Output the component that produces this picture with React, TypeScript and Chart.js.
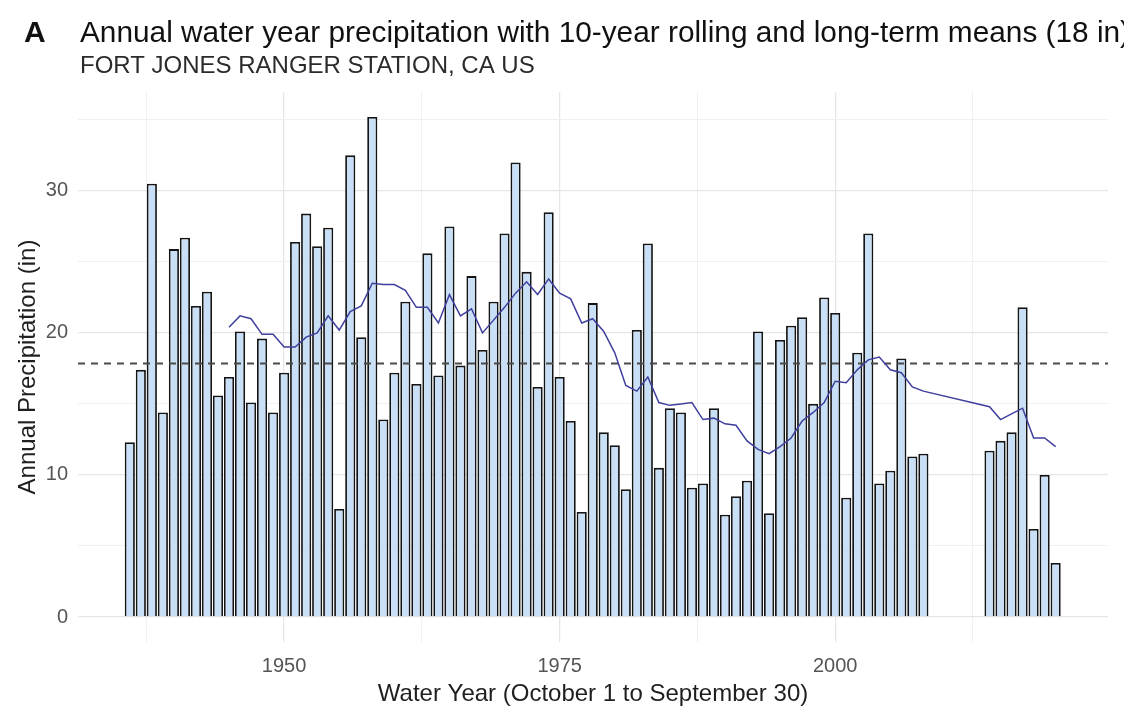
import { useEffect, useRef } from "react";
import { Chart, registerables } from "chart.js";

Chart.register(...registerables);

// Water years with observations (2009–2013 are missing at this station)
const years = [
  1936, 1937, 1938, 1939, 1940, 1941, 1942, 1943, 1944, 1945,
  1946, 1947, 1948, 1949, 1950, 1951, 1952, 1953, 1954, 1955,
  1956, 1957, 1958, 1959, 1960, 1961, 1962, 1963, 1964, 1965,
  1966, 1967, 1968, 1969, 1970, 1971, 1972, 1973, 1974, 1975,
  1976, 1977, 1978, 1979, 1980, 1981, 1982, 1983, 1984, 1985,
  1986, 1987, 1988, 1989, 1990, 1991, 1992, 1993, 1994, 1995,
  1996, 1997, 1998, 1999, 2000, 2001, 2002, 2003, 2004, 2005,
  2006, 2007, 2008, 2014, 2015, 2016, 2017, 2018, 2019, 2020,
];

// Annual water-year precipitation, inches
const precipIn = [
  12.3, 17.4, 30.5, 14.4, 25.9, 26.7, 21.9, 22.9, 15.6, 16.9,
  20.1, 15.1, 19.6, 14.4, 17.2, 26.4, 28.4, 26.1, 27.4, 7.6,
  32.5, 19.7, 35.2, 13.9, 17.2, 22.2, 16.4, 25.6, 17.0, 27.5,
  17.7, 24.0, 18.8, 22.2, 27.0, 32.0, 24.3, 16.2, 28.5, 16.9,
  13.8, 7.4, 22.1, 13.0, 12.1, 9.0, 20.2, 26.3, 10.5, 14.7,
  14.4, 9.1, 9.4, 14.7, 7.2, 8.5, 9.6, 20.1, 7.3, 19.5,
  20.5, 21.1, 15.0, 22.5, 21.4, 8.4, 18.6, 27.0, 9.4, 10.3,
  18.2, 11.3, 11.5, 11.7, 12.4, 13.0, 21.8, 6.2, 10.0, 3.8,
];

// 10-year rolling mean, inches
const rollingYears = [
  1945, 1946, 1947, 1948, 1949, 1950, 1951, 1952, 1953, 1954,
  1955, 1956, 1957, 1958, 1959, 1960, 1961, 1962, 1963, 1964,
  1965, 1966, 1967, 1968, 1969, 1970, 1971, 1972, 1973, 1974,
  1975, 1976, 1977, 1978, 1979, 1980, 1981, 1982, 1983, 1984,
  1985, 1986, 1987, 1988, 1989, 1990, 1991, 1992, 1993, 1994,
  1995, 1996, 1997, 1998, 1999, 2000, 2001, 2002, 2003, 2004,
  2005, 2006, 2007, 2008, 2014, 2015, 2016, 2017, 2018, 2019,
  2020,
];
const rolling10 = [
  20.4, 21.2, 21.0, 19.9, 19.9, 19.0, 19.0, 19.7, 20.0, 21.2,
  20.2, 21.5, 21.9, 23.5, 23.4, 23.4, 23.0, 21.8, 21.8, 20.7,
  22.7, 21.2, 21.7, 20.0, 20.9, 21.8, 22.8, 23.6, 22.7, 23.8,
  22.8, 22.4, 20.7, 21.0, 20.1, 18.6, 16.3, 15.9, 16.9, 15.1,
  14.9, 15.0, 15.1, 13.9, 14.0, 13.6, 13.5, 12.4, 11.8, 11.5,
  12.0, 12.6, 13.8, 14.4, 15.1, 16.6, 16.5, 17.4, 18.1, 18.3,
  17.4, 17.2, 16.2, 15.9, 14.8, 13.9, 14.3, 14.7, 12.6, 12.6,
  12.0,
];

// Long-term mean, inches
const longTermMean = 17.85;

// Axis ticks
const xTickYears = [1950, 1975, 2000];
const xMinorYears = [1937.5, 1962.5, 1987.5, 2012.5];
const yTickValues = [0, 10, 20, 30];
const yMinorValues = [5, 15, 25, 35];

const X_MIN = 1931.3;
const X_MAX = 2024.75;
const Y_MIN = -1.76;
const Y_MAX = 36.96;

const FONT = "'Liberation Sans', Arial, Helvetica, sans-serif";

const TITLE_TAG = "A";
const TITLE = "Annual water year precipitation with 10-year rolling and long-term means (18 in)";
const SUBTITLE = "FORT JONES RANGER STATION, CA US";
const X_TITLE = "Water Year (October 1 to September 30)";
const Y_TITLE = "Annual Precipitation (in)";

const textPlugin = {
  id: "plotText",
  afterDraw(chart: any) {
    const { ctx, chartArea } = chart;
    ctx.save();
    ctx.fillStyle = "#111111";
    ctx.textBaseline = "alphabetic";
    ctx.textAlign = "left";
    ctx.font = `bold 30px ${FONT}`;
    ctx.fillText(TITLE_TAG, 24, 42);
    ctx.font = `29.8px ${FONT}`;
    ctx.fillText(TITLE, 80, 42);
    ctx.fillStyle = "#2b2b2b";
    ctx.font = `24px ${FONT}`;
    ctx.fillText(SUBTITLE, 80, 73);

    ctx.fillStyle = "#1f1f1f";
    ctx.textAlign = "center";
    ctx.textBaseline = "middle";
    ctx.fillText(X_TITLE, (chartArea.left + chartArea.right) / 2, 694);

    ctx.translate(28, (chartArea.top + chartArea.bottom) / 2);
    ctx.rotate(-Math.PI / 2);
    ctx.fillText(Y_TITLE, 0, 0);
    ctx.restore();
  },
};

export default function App() {
  const canvasRef = useRef<HTMLCanvasElement | null>(null);

  useEffect(() => {
    const canvas = canvasRef.current;
    if (!canvas) return;
    Chart.defaults.font.family = FONT;

    const chart = new Chart(canvas, {
      type: "bar",
      data: {
        datasets: [
          {
            type: "line",
            label: "10-year rolling mean",
            data: rollingYears.map((yr, i) => ({ x: yr, y: rolling10[i] })),
            borderColor: "#3f3f9e",
            borderWidth: 1.5,
            pointRadius: 0,
            tension: 0,
            order: 1,
          } as any,
          {
            type: "line",
            label: "Long-term mean",
            data: [
              { x: X_MIN, y: longTermMean },
              { x: X_MAX, y: longTermMean },
            ],
            borderColor: "#4a4a4a",
            borderWidth: 2,
            borderDash: [7, 6],
            pointRadius: 0,
            order: 2,
          } as any,
          {
            type: "bar",
            label: "Annual precipitation",
            data: years.map((yr, i) => ({ x: yr, y: precipIn[i] })),
            backgroundColor: "#c9dff5",
            borderColor: "#141414",
            borderWidth: 1.8,
            barPercentage: 0.92,
            categoryPercentage: 1.0,
            order: 3,
          } as any,
        ],
      },
      options: {
        responsive: false,
        animation: false,
        devicePixelRatio: 1,
        layout: { padding: { top: 92, right: 16, bottom: 0, left: 0 } },
        plugins: {
          legend: { display: false },
          tooltip: { enabled: false },
          title: { display: false },
        },
        scales: {
          x: {
            type: "linear",
            min: X_MIN,
            max: X_MAX,
            offset: false,
            border: { display: false },
            afterBuildTicks: (scale: any) => {
              scale.ticks = [...xMinorYears, ...xTickYears]
                .sort((a, b) => a - b)
                .map((v) => ({ value: v }));
            },
            afterFit: (scale: any) => {
              scale.height = 70;
            },
            grid: {
              offset: false,
              drawTicks: false,
              color: (c: any) =>
                xTickYears.includes(c.tick?.value) ? "#e6e6e6" : "#f0f0f0",
              lineWidth: (c: any) => (xTickYears.includes(c.tick?.value) ? 1.3 : 1),
            },
            ticks: {
              autoSkip: false,
              maxRotation: 0,
              padding: 12,
              color: "#555555",
              font: { size: 20 },
              callback: (v: any) => (xTickYears.includes(Number(v)) ? String(v) : ""),
            },
          },
          y: {
            type: "linear",
            min: Y_MIN,
            max: Y_MAX,
            border: { display: false },
            afterBuildTicks: (scale: any) => {
              scale.ticks = [...yTickValues, ...yMinorValues]
                .sort((a, b) => a - b)
                .map((v) => ({ value: v }));
            },
            afterFit: (scale: any) => {
              scale.width = 78;
            },
            grid: {
              drawTicks: false,
              color: (c: any) =>
                yTickValues.includes(c.tick?.value) ? "#e6e6e6" : "#f0f0f0",
              lineWidth: (c: any) => (yTickValues.includes(c.tick?.value) ? 1.3 : 1),
            },
            ticks: {
              padding: 10,
              color: "#555555",
              font: { size: 20 },
              callback: (v: any) => (yTickValues.includes(Number(v)) ? String(v) : ""),
            },
          },
        },
      },
      plugins: [textPlugin],
    });

    return () => chart.destroy();
  }, []);

  return (
    <div
      style={{
        position: "fixed",
        left: 0,
        top: 0,
        width: 1124,
        height: 712,
        background: "#ffffff",
      }}
    >
      <canvas ref={canvasRef} width={1124} height={712} />
    </div>
  );
}
